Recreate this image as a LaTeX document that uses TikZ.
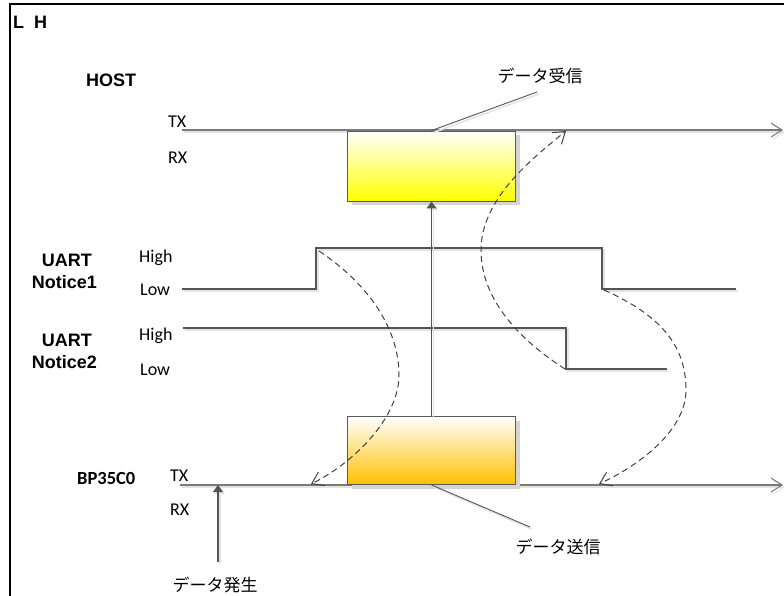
\documentclass[tikz,border=0pt]{standalone}
\usepackage{fontspec}
\usetikzlibrary{arrows.meta,shadows}
\newfontfamily\arialf{Liberation Sans}
\newfontfamily\calf{Carlito}
\newfontfamily\jpf{Noto Sans CJK JP}
\definecolor{linec}{HTML}{555555}
\definecolor{dashc}{HTML}{404040}
\definecolor{txc}{HTML}{7A7A7A}
\definecolor{shc}{HTML}{E4E4E4}
\definecolor{boxsh}{HTML}{D4D4D4}
\definecolor{orangec}{HTML}{FFC000}
\definecolor{boxline}{HTML}{5A5A5A}
\begin{document}
\begin{tikzpicture}[x=1pt,y=-1pt,
  shadowed/.style={preaction={draw=shc, line width=1.6pt, transform canvas={shift={(1.8pt,-2pt)}}}},
  sig/.style={draw=linec, line width=1.1pt, shadowed},
  txline/.style={draw=txc, line width=1.3pt, shadowed},
  leader/.style={draw=linec, line width=0.9pt, shadowed},
  dsh/.style={draw=dashc, line width=1pt, dash pattern=on 6pt off 4pt},
  openhead/.style={-{Straight Barb[length=11pt,width=14pt,line width=1pt]}},
  dhead/.style={-{Straight Barb[length=11pt,width=15pt,line width=1pt]}},
  fhead/.style={-{Triangle[length=7pt,width=10pt]}},
  ttl/.style={font=\arialf\bfseries\fontsize{18}{21}\selectfont, inner sep=0pt, anchor=base west},
  calb/.style={font=\calf\bfseries\fontsize{18.5}{21}\selectfont, inner sep=0pt, anchor=base west},
  lab/.style={font=\calf\fontsize{18}{21}\selectfont, inner sep=0pt, anchor=base west},
  jp/.style={font=\jpf\fontsize{17}{20}\selectfont, inner sep=0pt},
  rbox/.style={draw=boxline, line width=0.9pt, minimum width=168pt, inner sep=0pt,
    drop shadow={shadow xshift=4pt, shadow yshift=-4pt, fill=boxsh, opacity=1}}
]
\clip (0,0) rectangle (784,595);
\fill[white] (0,0) rectangle (784,595);
% frame
\draw[line width=2pt] (10,4) rectangle (820,640);

% titles
\node[ttl] (lh) at (13,28) {L\ \ H};
\node[ttl] (host) at (86,86) {HOST};
\node[ttl, anchor=base east] (u1a) at (92,266) {UART};
\node[ttl, anchor=base east] (u1b) at (97,288) {Notice1};
\node[ttl, anchor=base east] (u2a) at (92,346) {UART};
\node[ttl, anchor=base east] (u2b) at (97,368) {Notice2};
\node[calb] (bp) at (77,484) {BP35C0};

% small labels
\node[lab] (htx) at (168,127) {TX};
\node[lab] (hrx) at (168,163) {RX};
\node[lab] (hi1) at (139,262) {High};
\node[lab] (lo1) at (140,295) {Low};
\node[lab] (hi2) at (139,340) {High};
\node[lab] (lo2) at (140,375) {Low};
\node[lab] (btx) at (170,481) {TX};
\node[lab] (brx) at (170,515) {RX};

% HOST TX line
\coordinate (htxA) at (182,130);
\coordinate (htxB) at (783,130);
\draw[txline, openhead] (htxA) -- (htxB);
% BP35C0 TX line
\coordinate (btxA) at (180,485);
\coordinate (btxB) at (783,485);
\draw[txline, openhead] (btxA) -- (btxB);

% Notice1 signal
\coordinate (n1a) at (182,289);
\coordinate (n1b) at (316,289);
\coordinate (n1c) at (316,248);
\coordinate (n1d) at (602,248);
\coordinate (n1e) at (602,289);
\coordinate (n1f) at (736,289);
\draw[sig] (n1a) -- (n1b) -- (n1c) -- (n1d) -- (n1e) -- (n1f);
% Notice2 signal
\coordinate (n2a) at (183,328);
\coordinate (n2b) at (566,328);
\coordinate (n2c) at (566,369);
\coordinate (n2d) at (667,369);
\draw[sig] (n2a) -- (n2b) -- (n2c) -- (n2d);

% boxes
\node[rbox, minimum height=70pt, top color=white, bottom color=yellow] (rxbox) at (431.5,166) {};
\node[rbox, minimum height=68pt, top color=white, bottom color=orangec] (txbox) at (431.5,450.5) {};

% vertical transfer arrow
\draw[sig, fhead] (txbox.north) -- (rxbox.south);

% Japanese labels and leaders
\node[jp] (recv) at (540,76) {データ受信};
\coordinate (recvL) at (537,92);
\draw[leader] (rxbox.north) -- (recvL);
\node[jp] (send) at (558,547) {データ送信};
\coordinate (sendL) at (530,527);
\draw[leader] (txbox.south) -- (sendL);
\node[jp] (gen) at (215,585) {データ発生};
\coordinate (genS) at (218,562);
\coordinate (genT) at (218,485);
\draw[sig, fhead] (genS) -- (genT);

% dashed curves
\coordinate (c1s) at (319,251);
\coordinate (c1e) at (311,484);
\draw[dsh, dhead] (c1s) .. controls (370,285) and (399,330) .. (399,375)
  .. controls (399,420) and (350,465) .. (c1e);
\coordinate (c2s) at (565,369);
\coordinate (c2e) at (566,131);
\draw[dsh, dhead] (c2s) .. controls (520,340) and (481,300) .. (481,250)
  .. controls (481,200) and (530,160) .. (c2e);
\coordinate (c3s) at (604,290);
\coordinate (c3e) at (599,484);
\draw[dsh, dhead] (c3s) .. controls (660,315) and (686,345) .. (686,390)
  .. controls (686,430) and (640,465) .. (c3e);
\end{tikzpicture}
\end{document}
